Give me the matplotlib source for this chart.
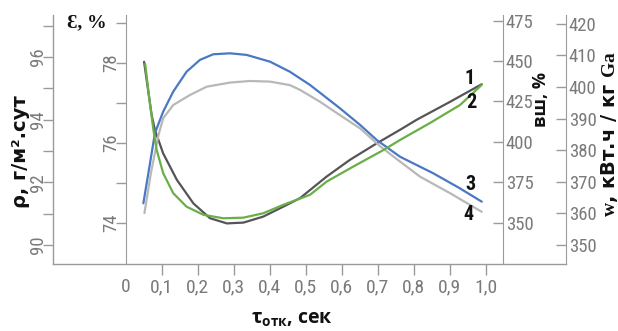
import os
import matplotlib
matplotlib.use('Agg')
import matplotlib.pyplot as plt
from matplotlib import font_manager as fm

# ---------------- data ----------------
x_ticks = [0, 0.1, 0.2, 0.3, 0.4, 0.5, 0.6, 0.7, 0.8, 0.9, 1.0]
x_tick_labels = ['0', '0,1', '0,2', '0,3', '0,4', '0,5', '0,6', '0,7', '0,8', '0,9', '1,0']

rho_ticks = [90, 91, 92, 93, 94, 95, 96, 97]
rho_labels = ['90', '', '92', '', '94', '', '96', '']
eps_ticks = [74, 75, 76, 77, 78, 79]
eps_labels = ['74', '', '76', '', '78', '']
vsh_ticks = [350, 375, 400, 425, 450, 475]
w_ticks = [350, 360, 370, 380, 390, 400, 410, 420]

# curve 1 (dark) – ε, %
x1 = [0.051, 0.072, 0.081, 0.104, 0.142, 0.188, 0.234, 0.281, 0.327, 0.382,
      0.438, 0.484, 0.558, 0.623, 0.697, 0.762, 0.808, 0.901, 0.989]
eps1 = [78.03, 76.70, 76.33, 75.74, 75.08, 74.49, 74.12, 73.99, 74.01, 74.16,
        74.41, 74.62, 75.16, 75.58, 75.99, 76.33, 76.58, 77.03, 77.47]

# curve 2 (green) – ρ, г/м².сут
x2 = [0.054, 0.065, 0.077, 0.086, 0.104, 0.132, 0.169, 0.216, 0.271, 0.327,
      0.382, 0.438, 0.512, 0.558, 0.632, 0.716, 0.762, 0.845, 0.929, 0.989]
rho2 = [95.78, 94.72, 93.67, 93.03, 92.29, 91.65, 91.22, 90.96, 90.85, 90.87,
        91.01, 91.28, 91.60, 92.02, 92.50, 93.03, 93.35, 93.89, 94.47, 95.11]

# curve 3 (blue) – вш, %
x3 = [0.049, 0.0675, 0.081, 0.104, 0.132, 0.169, 0.206, 0.243, 0.290, 0.336,
      0.401, 0.456, 0.512, 0.595, 0.651, 0.697, 0.762, 0.854, 0.928, 0.989]
vsh3 = [362.0, 386.8, 405.3, 418.7, 431.1, 443.4, 450.7, 454.2, 454.8, 453.8,
        449.6, 443.4, 435.2, 420.8, 410.5, 401.2, 390.8, 380.6, 371.3, 363.0]

# curve 4 (light grey) – w, кВт.ч/кг Ga
x4 = [0.052, 0.070, 0.091, 0.104, 0.132, 0.179, 0.225, 0.290, 0.345, 0.401,
      0.456, 0.484, 0.540, 0.595, 0.651, 0.706, 0.762, 0.818, 0.901, 0.989]
w4 = [360.1, 372.8, 384.8, 390.1, 394.3, 397.5, 400.1, 401.4, 401.9, 401.7,
      400.6, 399.1, 395.3, 391.1, 386.9, 381.3, 376.4, 371.6, 366.4, 360.5]

curve_labels = ['1', '2', '3', '4']

# ---------------- fonts ----------------
plt.rcParams['mathtext.fontset'] = 'custom'
plt.rcParams['mathtext.rm'] = 'DejaVu Sans:bold'
plt.rcParams['mathtext.sf'] = 'Open Sans:bold'
plt.rcParams['mathtext.bf'] = 'Liberation Serif:bold'
plt.rcParams['mathtext.it'] = 'Open Sans:italic'


def find_condensed(bold):
    bad = ['semi', 'extra', 'ultra', 'italic', 'oblique', 'light', 'thin',
           'medium', 'black', 'mono', 'serif', 'display', 'ui']
    cands = []
    for f in fm.fontManager.ttflist:
        fn = os.path.basename(f.fname).lower()
        if not ('condensed' in fn or 'narrow' in fn):
            continue
        if any(b in fn for b in bad):
            continue
        if ('bold' in fn) != bold:
            continue
        cands.append(f.fname)
    order = ['liberationsansnarrow', 'notosans', 'robotocondensed', 'opensans',
             'dejavusans', 'arialnarrow']
    for key in order:
        for c in sorted(cands):
            if os.path.basename(c).lower().replace('-', '').replace('_', '').startswith(key):
                return c
    return sorted(cands)[0] if cands else None


reg = find_condensed(False)
bld = find_condensed(True)
XT = 14
YT = 13.5
if reg:
    NARROW_X = fm.FontProperties(fname=reg, size=XT)
    NARROW_Y = fm.FontProperties(fname=reg, size=YT)
else:
    NARROW_X = fm.FontProperties(family='Liberation Sans', size=XT - 1.5)
    NARROW_Y = fm.FontProperties(family='Liberation Sans', size=YT - 1.5)
if bld:
    NARROW_B = fm.FontProperties(fname=bld, size=14.5)
else:
    NARROW_B = fm.FontProperties(family='Liberation Sans', weight='bold', size=13)

SPINE = '#9a9a9a'
TICKC = '#7a7a7a'

W, H = 618, 331
fig = plt.figure(figsize=(W / 100, H / 100), dpi=100)


def fx(px):
    return px / W


def fy(py):
    return 1 - py / H


L, R, T, B = 53, 566, 15, 264
ax = fig.add_axes([fx(L), fy(B), (R - L) / W, (B - T) / H])
ax.set_xlim(-0.202, 1.223)
ax.set_ylim(89.39, 97.34)

for s in ['top', 'right']:
    ax.spines[s].set_visible(False)
for s in ['left', 'bottom']:
    ax.spines[s].set_color(SPINE)
    ax.spines[s].set_linewidth(1.0)

ax.set_xticks(x_ticks)
ax.set_xticklabels(x_tick_labels)
ax.set_yticks(rho_ticks)
ax.set_yticklabels(rho_labels)
ax.tick_params(axis='x', direction='out', length=8, width=1, color=SPINE,
               labelcolor=TICKC, pad=2)
ax.tick_params(axis='y', direction='out', length=7, width=1, color=SPINE,
               labelcolor=TICKC, pad=-2.5, labelrotation=90)
ax.xaxis.get_major_ticks()[0].tick1line.set_visible(False)
for lab in ax.get_xticklabels():
    lab.set_fontproperties(NARROW_X)
for lab in ax.get_yticklabels():
    lab.set_fontproperties(NARROW_Y)
    lab.set_verticalalignment('center')

# ε axis (left inner)
ax_e = ax.twinx()
ax_e.set_ylim(72.975, 79.2)
ax_e.yaxis.set_ticks_position('left')
ax_e.spines['left'].set_position(('axes', (126 - L) / (R - L)))
for s in ['top', 'right', 'bottom']:
    ax_e.spines[s].set_visible(False)
ax_e.spines['left'].set_color(SPINE)
ax_e.set_yticks(eps_ticks)
ax_e.set_yticklabels(eps_labels)
ax_e.tick_params(axis='y', direction='out', length=7, width=1, color=SPINE,
                 labelcolor=TICKC, pad=-2.5, labelrotation=90)
for lab in ax_e.get_yticklabels():
    lab.set_fontproperties(NARROW_Y)
    lab.set_verticalalignment('center')

# вш axis (right inner)
ax_v = ax.twinx()
ax_v.set_ylim(324.44, 478.5)
ax_v.spines['right'].set_position(('axes', (503 - L) / (R - L)))
for s in ['top', 'left', 'bottom']:
    ax_v.spines[s].set_visible(False)
ax_v.spines['right'].set_color(SPINE)
ax_v.set_yticks(vsh_ticks)
ax_v.tick_params(axis='y', direction='in', length=7, width=1, color=SPINE,
                 labelcolor=TICKC, pad=2)
for lab in ax_v.get_yticklabels():
    lab.set_fontproperties(NARROW_Y)

# w axis (right outer)
ax_w = ax.twinx()
ax_w.set_ylim(343.99, 422.78)
for s in ['top', 'left', 'bottom']:
    ax_w.spines[s].set_visible(False)
ax_w.spines['right'].set_color(SPINE)
ax_w.set_yticks(w_ticks)
ax_w.tick_params(axis='y', direction='in', length=7, width=1, color=SPINE,
                 labelcolor=TICKC, pad=2)
for lab in ax_w.get_yticklabels():
    lab.set_fontproperties(NARROW_Y)

# curves
lw = 1.6
ax_w.plot(x4, w4, color='#b8b8b8', lw=lw, solid_capstyle='round')
ax_v.plot(x3, vsh3, color='#4a78c4', lw=lw, solid_capstyle='round')
ax_e.plot(x1, eps1, color='#555555', lw=lw, solid_capstyle='round')
ax.plot(x2, rho2, color='#6aae48', lw=lw, solid_capstyle='round')
ax.set_zorder(ax_w.get_zorder() + 1)
ax.patch.set_visible(False)

# curve numbers
num_pos = [(470, 78), (471, 102), (470, 185), (468, 214)]
for t, (px, py) in zip(curve_labels, num_pos):
    fig.text(fx(px), fy(py), t, ha='center', va='center',
             fontproperties=NARROW_B, color='#111111')

# axis titles
fig.text(fx(21), fy(152), 'ρ, г/м².сут', rotation=90, ha='center', va='center',
         fontsize=14, fontweight='bold', family='DejaVu Sans', color='#111111')
fig.text(fx(87), fy(23), 'Ɛ, %', ha='center', va='center',
         fontsize=14, fontweight='bold', family=['Liberation Serif', 'DejaVu Serif'],
         color='#111111')
fig.text(fx(541), fy(100), 'вш, %', rotation=90, ha='center', va='center',
         fontsize=13, fontweight='bold', family='Open Sans', color='#111111')
fig.text(fx(609), fy(134), r'$\mathbf{w}$, кВт.ч / кг $\mathbf{Ga}$', rotation=90,
         ha='center', va='center', fontsize=14, fontweight='bold',
         family='DejaVu Sans', color='#111111')
fig.text(fx(292), fy(318), r'$\mathsf{\tau}_{\mathsf{отк}}$, сек', ha='center', va='center',
         fontsize=14, fontweight='bold', family='Open Sans', color='#111111')

fig.savefig('out.png', dpi=100)
